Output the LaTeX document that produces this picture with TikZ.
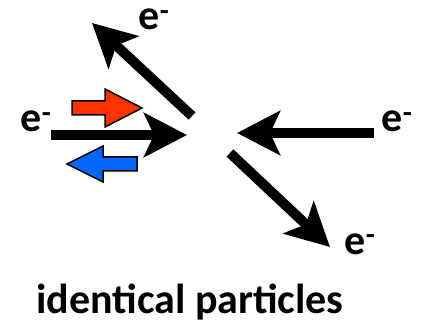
\documentclass[tikz,border=0pt]{standalone}
\usepackage{fontspec}
\setmainfont{Carlito}
\usetikzlibrary{arrows.meta}
\tikzset{
  big/.style={line width=10pt, -{Stealth[length=43pt,width=44pt,inset=10pt]}},
  elab/.style={font=\fontsize{42}{42}\selectfont\bfseries, inner sep=0pt,
    text height=24pt, text depth=0pt, anchor=base},
  hollow/.style={draw=black, line width=1.5pt, line join=miter}
}
\begin{document}
\begin{tikzpicture}[x=1pt,y=-1pt]
\useasboundingbox (0,0) rectangle (427,328);
\coordinate (a1) at (51,135);
\coordinate (a2) at (187,135);
\coordinate (b1) at (192,116);
\coordinate (b2) at (92,23);
\coordinate (c1) at (374,133);
\coordinate (c2) at (237,133);
\coordinate (d1) at (230,153);
\coordinate (d2) at (330,247);
\draw[big] (a1) -- (a2);
\draw[big] (b1) -- (b2);
\draw[big] (c1) -- (c2);
\draw[big] (d1) -- (d2);
\filldraw[hollow, fill={rgb,255:red,255;green,51;blue,0}]
  (72,101) -- (105,101) -- (105,89) -- (142,108) -- (105,127) -- (105,115) -- (72,115) -- cycle;
\filldraw[hollow, fill={rgb,255:red,0;green,102;blue,255}]
  (137,157) -- (103,157) -- (103,146) -- (67,164) -- (103,182) -- (103,171) -- (137,171) -- cycle;
\node[elab] (eT) at (154,30) {e\textsuperscript{-}};
\node[elab] (eL) at (36,132) {e\textsuperscript{-}};
\node[elab] (eR) at (397,132) {e\textsuperscript{-}};
\node[elab] (eB) at (360,254) {e\textsuperscript{-}};
\node[font=\fontsize{42}{42}\selectfont\bfseries, anchor=base, inner sep=0pt] (t) at (190,313) {identical particles};
\end{tikzpicture}
\end{document}
